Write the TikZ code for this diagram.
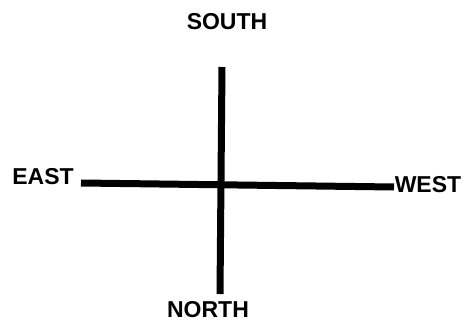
\documentclass[tikz,border=0pt]{standalone}
\usepackage{fontspec}
\setmainfont{Liberation Sans}
\usepackage{tikz}
\usetikzlibrary{positioning}
\tikzset{
  punto/.style={font=\fontsize{23}{23}\selectfont\bfseries, inner sep=0pt},
  asse/.style={line width=7pt, black}
}

\begin{document}
\begin{tikzpicture}[x=1pt, y=-1pt]
    \useasboundingbox (0,0) rectangle (467,326);

    % etichette
    \node[punto] (south) at (227, 22) {SOUTH};
    \node[punto] (north) at (208, 310) {NORTH};
    \node[punto] (east)  at (43, 177) {EAST};
    \node[punto] (west)  at (428, 185) {WEST};

    % estremi degli assi
    \coordinate (s) at (222, 67);
    \coordinate (n) at (220, 294);
    \coordinate (e) at (81, 183);
    \coordinate (w) at (394, 187);

    % croce
    \draw[asse] (s) -- (n);
    \draw[asse] (e) -- (w);
\end{tikzpicture}
\end{document}
